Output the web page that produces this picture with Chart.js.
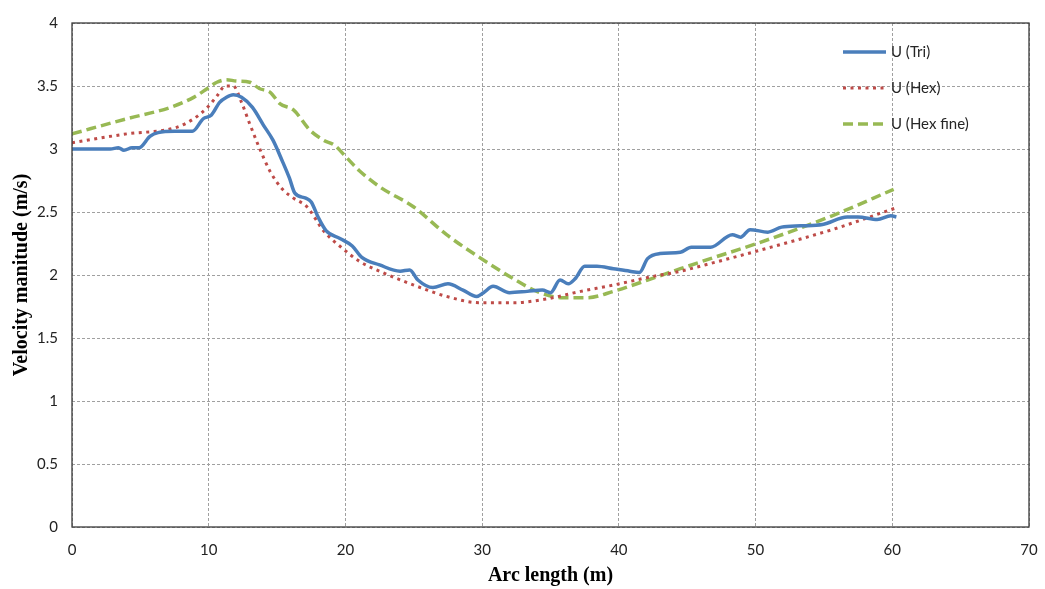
<!DOCTYPE html>
<html>
<head>
<meta charset="utf-8">
<script src="https://cdn.jsdelivr.net/npm/chart.js@4"></script>
<style>
  html, body { margin: 0; padding: 0; background: #fff; }
</style>
</head>
<body>
<canvas id="velocityChart" width="1045" height="589"></canvas>
<script>
// arc length (m) and velocity (m/s)
const arcTri = [0, 2.8, 3.4, 3.8, 4.4, 4.9, 5.7, 6.3, 7.5, 8.8, 9.6, 10.2, 10.8, 11.3, 11.8, 12.4, 13.2, 14.0, 14.7, 15.4,
    15.9, 16.3, 17.1, 17.5, 18.0, 18.6, 19.6, 20.5, 21.2, 22.5, 24.0, 24.7, 25.3, 26.4, 27.5, 28.6, 29.6, 30.1, 30.8, 32.0,
    33.3, 34.4, 35.0, 35.7, 36.3, 36.8, 37.5, 38.4, 39.6, 40.8, 41.5, 42.1, 43.0, 44.5, 45.3, 46.7, 48.3, 48.9, 49.6, 50.9,
    51.9, 53.3, 54.9, 56.7, 57.5, 58.9, 59.9, 60.3];
const uTri = [3.00, 3.00, 3.01, 2.99, 3.01, 3.01, 3.10, 3.13, 3.14, 3.14, 3.24, 3.27, 3.37, 3.41, 3.43, 3.41, 3.33, 3.19, 3.07, 2.90,
    2.77, 2.65, 2.61, 2.58, 2.46, 2.35, 2.29, 2.23, 2.14, 2.08, 2.03, 2.04, 1.96, 1.90, 1.93, 1.88, 1.83, 1.86, 1.91, 1.86,
    1.87, 1.88, 1.86, 1.96, 1.93, 1.97, 2.07, 2.07, 2.05, 2.03, 2.02, 2.13, 2.17, 2.18, 2.22, 2.22, 2.32, 2.30, 2.36, 2.34,
    2.38, 2.39, 2.40, 2.46, 2.46, 2.44, 2.47, 2.46];

const arcHex = [0, 4.0, 7.6, 8.9, 9.9, 10.6, 11.2, 11.8, 12.4, 13.0, 13.7, 14.5, 15.4, 16.2, 17.2, 18.4, 19.8, 21.0, 22.5, 25.0,
    27.4, 29.8, 32.3, 34.7, 37.2, 39.6, 42.1, 44.5, 47.0, 50.1, 55.6, 60.2];
const uHex = [3.05, 3.12, 3.17, 3.24, 3.33, 3.42, 3.50, 3.50, 3.37, 3.20, 3.01, 2.82, 2.68, 2.61, 2.54, 2.35, 2.21, 2.11, 2.03, 1.92,
    1.83, 1.78, 1.78, 1.81, 1.87, 1.92, 1.98, 2.03, 2.10, 2.19, 2.36, 2.53];

const arcHexFine = [0, 4.0, 7.2, 8.9, 9.9, 10.6, 11.3, 12.0, 13.0, 13.7, 14.5, 15.2, 16.2, 17.4, 18.4, 19.2, 20.1, 21.0, 22.5, 25.0,
    27.4, 29.8, 32.3, 34.2, 35.9, 37.7, 39.6, 42.1, 44.5, 46.7, 50.1, 55.6, 60.1];
const uHexFine = [3.12, 3.24, 3.33, 3.41, 3.48, 3.53, 3.55, 3.54, 3.53, 3.48, 3.45, 3.36, 3.31, 3.15, 3.07, 3.03, 2.93, 2.83, 2.70, 2.54,
    2.32, 2.14, 1.97, 1.86, 1.82, 1.82, 1.87, 1.96, 2.05, 2.13, 2.25, 2.47, 2.68];

const toPoints = (xs, ys) => xs.map((x, i) => ({ x: x, y: ys[i] }));

const tickFont = { family: 'Lato', size: 15 };
const titleFont = { family: 'Liberation Serif', size: 20, weight: 'bold' };

// frame round the plot area plus the legend sitting inside it
const framePlugin = {
    id: 'frame',
    afterDraw(chart) {
        const { ctx, chartArea } = chart;
        ctx.save();
        ctx.strokeStyle = '#3a3a3a';
        ctx.lineWidth = 1.3;
        ctx.strokeRect(chartArea.left, chartArea.top, chartArea.right - chartArea.left, chartArea.bottom - chartArea.top);

        const rows = [52, 88, 124];
        ctx.font = '15px Lato';
        ctx.textBaseline = 'middle';
        ctx.textAlign = 'left';
        chart.data.datasets.forEach((ds, i) => {
            const y = rows[i];
            ctx.beginPath();
            ctx.strokeStyle = ds.borderColor;
            ctx.lineWidth = ds.borderWidth;
            ctx.setLineDash(ds.borderDash || []);
            ctx.moveTo(843, y);
            ctx.lineTo(886, y);
            ctx.stroke();
            ctx.setLineDash([]);
            ctx.fillStyle = '#262626';
            ctx.fillText(ds.label, 891, y);
        });
        ctx.restore();
    }
};

new Chart(document.getElementById('velocityChart').getContext('2d'), {
    type: 'line',
    data: {
        datasets: [
            {
                label: 'U (Tri)',
                data: toPoints(arcTri, uTri),
                borderColor: '#4A7EBB',
                borderWidth: 3.5,
                cubicInterpolationMode: 'monotone',
                pointRadius: 0,
                fill: false
            },
            {
                label: 'U (Hex)',
                data: toPoints(arcHex, uHex),
                borderColor: '#BE4B48',
                borderWidth: 3,
                borderDash: [3, 4.5],
                cubicInterpolationMode: 'monotone',
                pointRadius: 0,
                fill: false
            },
            {
                label: 'U (Hex fine)',
                data: toPoints(arcHexFine, uHexFine),
                borderColor: '#98B954',
                borderWidth: 3.5,
                borderDash: [10, 5],
                cubicInterpolationMode: 'monotone',
                pointRadius: 0,
                fill: false
            }
        ]
    },
    options: {
        responsive: false,
        animation: false,
        devicePixelRatio: 1,
        layout: {
            padding: { left: 0, right: 16, top: 16, bottom: 0 }
        },
        scales: {
            x: {
                type: 'linear',
                min: 0,
                max: 70,
                ticks: { stepSize: 10, font: tickFont, color: '#222', padding: 14 },
                grid: { color: '#A0A0A0', lineWidth: 1, drawTicks: false },
                border: { display: false, dash: [3, 2] },
                title: { display: true, text: 'Arc length (m)', font: titleFont, color: '#000', padding: { top: 0, bottom: 1 } },
                afterFit: (scale) => {
                    scale.height = 62;
                    scale.paddingLeft = 0;
                    scale.paddingRight = 0;
                }
            },
            y: {
                min: 0,
                max: 4,
                ticks: {
                    stepSize: 0.5, font: tickFont, color: '#222', padding: 14,
                    callback: (v) => String(Number(v.toFixed(1)))
                },
                grid: { color: '#A0A0A0', lineWidth: 1, drawTicks: false },
                border: { display: false, dash: [3, 2] },
                title: { display: true, text: 'Velocity manitude (m/s)', font: titleFont, color: '#000', padding: { top: 10, bottom: 0 } },
                afterFit: (scale) => { scale.width = 72; }
            }
        },
        plugins: {
            legend: { display: false },
            tooltip: { enabled: false }
        }
    },
    plugins: [framePlugin]
});
</script>
</body>
</html>
